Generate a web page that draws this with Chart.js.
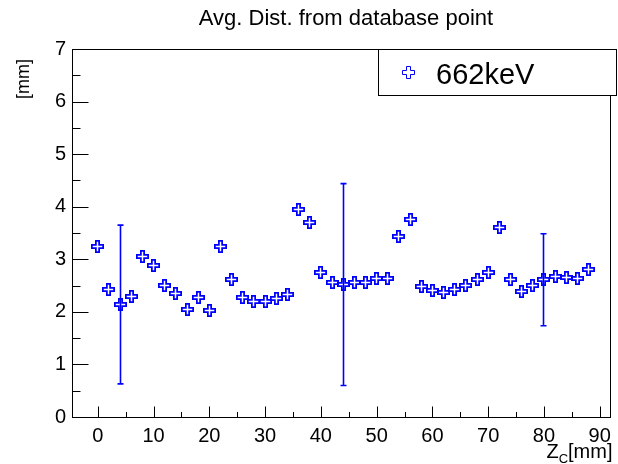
<!DOCTYPE html>
<html>
<head>
<meta charset="utf-8">
<script src="https://cdn.jsdelivr.net/npm/chart.js@4.4.1/dist/chart.umd.min.js"></script>
<style>
  html, body { margin: 0; padding: 0; background: #ffffff; }
  #wrap { width: 618px; height: 464px; }
</style>
</head>
<body>
<div id="wrap"><canvas id="c" width="618" height="464"></canvas></div>
<script>
// Z_C positions [mm]
const zPositions = [0, 2, 4, 6, 8, 10, 12, 14, 16, 18, 20, 22, 24, 26, 28, 30, 32, 34, 36, 38,
                    40, 42, 44, 46, 48, 50, 52, 54, 56, 58, 60, 62, 64, 66, 68, 70, 72, 74, 76, 78,
                    80, 82, 84, 86, 88];
// average distance from database point [mm]
const avgDist = [3.25, 2.42, 2.14, 2.30, 3.05, 2.885, 2.505, 2.34, 2.05, 2.28, 2.035, 3.234, 2.61, 2.28, 2.19,
                 2.19, 2.26, 2.33, 3.95, 3.70, 2.745, 2.555, 2.52, 2.555, 2.56, 2.644, 2.63, 3.424, 3.753, 2.475,
                 2.40, 2.37, 2.43, 2.505, 2.61, 2.75, 3.60, 2.62, 2.38, 2.505, 2.61, 2.675, 2.66, 2.64, 2.815];
// symmetric errors (only the large ones show outside the marker)
const avgDistErr = [0, 0, 1.51, 0, 0, 0, 0, 0, 0, 0, 0, 0, 0, 0, 0,
                    0, 0, 0, 0, 0, 0, 0, 1.92, 0, 0, 0, 0, 0, 0, 0,
                    0, 0, 0, 0, 0, 0, 0, 0, 0, 0, 0.875, 0, 0, 0, 0];
const xTickLabels = [0, 10, 20, 30, 40, 50, 60, 70, 80, 90];
const yTickLabels = [0, 1, 2, 3, 4, 5, 6, 7];
const chartTitle = 'Avg. Dist. from database point';
const seriesLabel = '662keV';

const FONT = "'Liberation Sans', Arial, Helvetica, sans-serif";
const BLUE = '#0000ff';

// hollow "+" marker drawn on a small canvas (odd size, centred on a pixel centre)
function openCross(size, half, arm, lw, color) {
  const c = document.createElement('canvas');
  c.width = size; c.height = size;
  const g = c.getContext('2d');
  g.translate(size / 2, size / 2);
  g.beginPath();
  const h = half, a = arm;
  g.moveTo(-a, -h); g.lineTo(a, -h); g.lineTo(a, -a); g.lineTo(h, -a);
  g.lineTo(h, a); g.lineTo(a, a); g.lineTo(a, h); g.lineTo(-a, h);
  g.lineTo(-a, a); g.lineTo(-h, a); g.lineTo(-h, -a); g.lineTo(-a, -a);
  g.closePath();
  g.lineWidth = lw;
  g.strokeStyle = color;
  g.lineJoin = 'miter';
  g.stroke();
  return c;
}
const markerImg = openCross(15, 5.625, 1.625, 1.75, BLUE);
const legendMarkerImg = openCross(15, 6, 2, 1, BLUE);

// midpoints between labelled ticks give the short ticks
function withMinor(majors) {
  const out = [];
  majors.forEach((v, i) => {
    out.push(v);
    if (i < majors.length - 1) out.push((v + majors[i + 1]) / 2);
  });
  return out;
}

// keep marker images on whole pixels so the outline stays crisp
const snapPoints = {
  id: 'snapPoints',
  beforeDatasetsDraw(chart) {
    chart.getDatasetMeta(0).data.forEach(p => {
      p.x = Math.floor(p.x) + 0.5;
      p.y = Math.floor(p.y) + 0.5;
    });
  }
};

const errorBars = {
  id: 'errorBars',
  beforeDatasetsDraw(chart) {
    const ctx = chart.ctx, xs = chart.scales.x, ys = chart.scales.y;
    ctx.save();
    ctx.strokeStyle = BLUE;
    ctx.lineWidth = 1.6;
    avgDistErr.forEach((e, i) => {
      if (!e) return;
      const x = Math.floor(xs.getPixelForValue(zPositions[i])) + 0.5;
      const yt = ys.getPixelForValue(avgDist[i] + e);
      const yb = ys.getPixelForValue(avgDist[i] - e);
      ctx.beginPath();
      ctx.moveTo(x, yt); ctx.lineTo(x, yb);
      ctx.moveTo(x - 3, yt); ctx.lineTo(x + 3, yt);
      ctx.moveTo(x - 3, yb); ctx.lineTo(x + 3, yb);
      ctx.stroke();
    });
    ctx.restore();
  }
};

const frameAndText = {
  id: 'frameAndText',
  afterDraw(chart) {
    const ctx = chart.ctx, a = chart.chartArea;
    const xs = chart.scales.x, ys = chart.scales.y;
    ctx.save();
    // frame
    ctx.strokeStyle = '#000';
    ctx.lineWidth = 1;
    const L = Math.round(a.left) + 0.5, R = Math.round(a.right) + 0.5;
    const T = Math.round(a.top) + 0.5, B = Math.round(a.bottom) + 0.5;
    ctx.strokeRect(L, T, R - L, B - T);
    // inward ticks
    ctx.beginPath();
    xs.ticks.forEach(t => {
      const x = Math.round(xs.getPixelForValue(t.value)) + 0.5;
      const len = xTickLabels.includes(t.value) ? 11 : 5.5;
      ctx.moveTo(x, B); ctx.lineTo(x, B - len);
    });
    ys.ticks.forEach(t => {
      const y = Math.round(ys.getPixelForValue(t.value)) + 0.5;
      const len = yTickLabels.includes(t.value) ? 16 : 8;
      ctx.moveTo(L, y); ctx.lineTo(L + len, y);
    });
    ctx.stroke();

    ctx.fillStyle = '#000';
    // title
    ctx.font = '22px ' + FONT;
    ctx.textAlign = 'center';
    ctx.textBaseline = 'alphabetic';
    ctx.fillText(chartTitle, 346, 25);

    // x-axis title: Z_C[mm], right aligned
    ctx.textAlign = 'left';
    const big = '20px ' + FONT, small = '13px ' + FONT;
    ctx.font = big; const wZ = ctx.measureText('Z').width; const wMM = ctx.measureText('[mm]').width;
    ctx.font = small; const wC = ctx.measureText('C').width;
    let x0 = 612.5 - (wZ + wC + wMM);
    ctx.font = big; ctx.fillText('Z', x0, 457.5);
    ctx.font = small; ctx.fillText('C', x0 + wZ, 462.5);
    ctx.font = big; ctx.fillText('[mm]', x0 + wZ + wC, 457.5);

    // y-axis title, rotated, aligned near the top of the axis
    ctx.save();
    ctx.translate(29, 59);
    ctx.rotate(-Math.PI / 2);
    ctx.textAlign = 'right';
    ctx.font = '18px ' + FONT;
    ctx.fillText('[mm]', 0, 0);
    ctx.restore();

    // legend box
    ctx.fillStyle = '#fff';
    ctx.fillRect(378.5, 49.5, 238, 46);
    ctx.strokeStyle = '#000';
    ctx.strokeRect(378.5, 49.5, 238, 46);
    ctx.drawImage(legendMarkerImg, 401, 65);
    ctx.fillStyle = '#000';
    ctx.font = '29px ' + FONT;
    ctx.textAlign = 'left';
    ctx.fillText(seriesLabel, 436, 83.5);
    ctx.restore();
  }
};

Chart.defaults.font.family = FONT;
Chart.defaults.color = '#000';

new Chart(document.getElementById('c'), {
  type: 'scatter',
  data: {
    datasets: [{
      label: seriesLabel,
      data: zPositions.map((z, i) => ({ x: z, y: avgDist[i] })),
      pointStyle: markerImg,
      pointRadius: 7,
      borderColor: BLUE,
      backgroundColor: BLUE,
      showLine: false
    }]
  },
  options: {
    responsive: false,
    animation: false,
    devicePixelRatio: 1,
    layout: { padding: { top: 49, right: 5, left: 0, bottom: 0 } },
    plugins: { legend: { display: false }, title: { display: false }, tooltip: { enabled: false } },
    scales: {
      x: {
        type: 'linear',
        min: -4.63,
        max: 91.85,
        grid: { display: false, drawTicks: false },
        border: { display: false },
        afterBuildTicks(scale) { scale.ticks = withMinor(xTickLabels).map(v => ({ value: v })); },
        afterFit(scale) { scale.height = 47; },
        ticks: {
          autoSkip: false, maxRotation: 0, padding: 7,
          font: { size: 20 },
          callback: v => xTickLabels.includes(v) ? String(v) : ''
        }
      },
      y: {
        type: 'linear',
        min: 0,
        max: 7,
        grid: { display: false, drawTicks: false },
        border: { display: false },
        afterBuildTicks(scale) { scale.ticks = withMinor(yTickLabels).map(v => ({ value: v })); },
        afterFit(scale) { scale.width = 72; },
        ticks: {
          autoSkip: false, padding: 6,
          font: { size: 20 },
          callback: v => yTickLabels.includes(v) ? String(v) : ''
        }
      }
    }
  },
  plugins: [snapPoints, errorBars, frameAndText]
});
</script>
</body>
</html>
